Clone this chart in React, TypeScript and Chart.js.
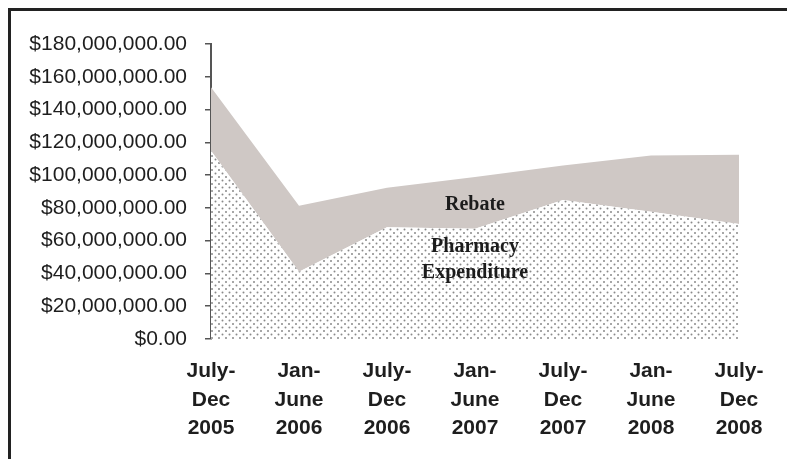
import React, { useEffect, useRef } from "react";
import { Chart, registerables } from "chart.js";

Chart.register(...registerables);

// Half-year periods (x categories, multi-line labels)
const periods: string[][] = [
  ["July-", "Dec", "2005"],
  ["Jan-", "June", "2006"],
  ["July-", "Dec", "2006"],
  ["Jan-", "June", "2007"],
  ["July-", "Dec", "2007"],
  ["Jan-", "June", "2008"],
  ["July-", "Dec", "2008"],
];

// Pharmacy expenditure (bottom stacked area), dollars
const pharmacyExpenditure: number[] = [
  114.9e6, 41.1e6, 68.2e6, 67.2e6, 84.8e6, 77.6e6, 70.2e6,
];

// Rebate (stacked on top of pharmacy expenditure), dollars
const rebate: number[] = [
  38.7e6, 40.2e6, 24.1e6, 31.6e6, 21.0e6, 34.3e6, 42.2e6,
];

// Y axis range
const yMin = 0;
const yMax = 180e6;
const yStep = 20e6;

// In-chart area labels: text, category index, value
const noteTexts: string[] = ["Rebate", "Pharmacy", "Expenditure"];
const noteIndex: number[] = [3, 3, 3];
const noteValues: number[] = [82.0e6, 56.3e6, 40.1e6];

function makeDotPattern(): CanvasPattern | string {
  const c = document.createElement("canvas");
  c.width = 7;
  c.height = 7;
  const g = c.getContext("2d");
  if (!g) return "#e0e0e0";
  g.fillStyle = "#ffffff";
  g.fillRect(0, 0, 7, 7);
  g.fillStyle = "#8a8a8a";
  g.beginPath();
  g.arc(1.5, 1.5, 1.0, 0, Math.PI * 2);
  g.fill();
  g.beginPath();
  g.arc(5, 5, 1.0, 0, Math.PI * 2);
  g.fill();
  const p = g.createPattern(c, "repeat");
  return p || "#e0e0e0";
}

const notesPlugin = {
  id: "areaNotes",
  afterDatasetsDraw(chart: any) {
    const { ctx, scales } = chart;
    const x = scales.x;
    const y = scales.y;
    ctx.save();
    ctx.font = 'bold 20px "Liberation Serif", "Times New Roman", serif';
    ctx.fillStyle = "#1c1c1c";
    ctx.textAlign = "center";
    ctx.textBaseline = "middle";
    noteTexts.forEach((t, i) => {
      ctx.fillText(t, x.getPixelForValue(noteIndex[i]), y.getPixelForValue(noteValues[i]));
    });
    ctx.restore();
  },
};

export default function App() {
  const canvasRef = useRef<HTMLCanvasElement | null>(null);

  useEffect(() => {
    if (!canvasRef.current) return;
    const pattern = makeDotPattern();
    const chart = new Chart(canvasRef.current, {
      type: "line",
      data: {
        labels: periods,
        datasets: [
          {
            label: "Pharmacy Expenditure",
            data: pharmacyExpenditure,
            fill: "origin",
            backgroundColor: pattern as any,
            borderColor: "rgba(0,0,0,0)",
            borderWidth: 0,
            pointRadius: 0,
            tension: 0,
          },
          {
            label: "Rebate",
            data: rebate,
            fill: "-1",
            backgroundColor: "#cfc8c5",
            borderColor: "rgba(0,0,0,0)",
            borderWidth: 0,
            pointRadius: 0,
            tension: 0,
          },
        ],
      },
      options: {
        animation: false,
        responsive: true,
        maintainAspectRatio: false,
        layout: { padding: { top: 33, right: 56, left: 0, bottom: 0 } },
        plugins: {
          legend: { display: false },
          tooltip: { enabled: false },
        },
        scales: {
          x: {
            grid: { display: false, drawTicks: false },
            border: { display: false },
            ticks: {
              color: "#1e1e1e",
              padding: 18,
              maxRotation: 0,
              autoSkip: false,
              font: {
                family: '"Liberation Sans", Arial, sans-serif',
                size: 21,
                weight: "bold",
                lineHeight: 1.36,
              },
            },
            afterFit(s: any) {
              s.height = 120;
            },
          },
          y: {
            stacked: true,
            min: yMin,
            max: yMax,
            z: 1,
            grid: {
              drawOnChartArea: false,
              drawTicks: true,
              tickLength: 6,
              color: "#555",
              lineWidth: 1.5,
            },
            border: { display: true, color: "#555", width: 2 },
            ticks: {
              stepSize: yStep,
              padding: 18,
              color: "#1e1e1e",
              font: { family: '"Liberation Sans", Arial, sans-serif', size: 21 },
              callback: (v: any) =>
                "$" +
                Number(v).toLocaleString("en-US", {
                  minimumFractionDigits: 2,
                  maximumFractionDigits: 2,
                }),
            },
            afterFit(s: any) {
              s.width = 200;
            },
          },
        },
      },
      plugins: [notesPlugin],
    });
    return () => chart.destroy();
  }, []);

  return (
    <div
      style={{
        borderTop: "3px solid #222",
        borderLeft: "3px solid #222",
        width: 784,
        height: 448,
        position: "relative",
      }}
    >
      <canvas ref={canvasRef} style={{ width: "100%", height: "100%" }} />
    </div>
  );
}
